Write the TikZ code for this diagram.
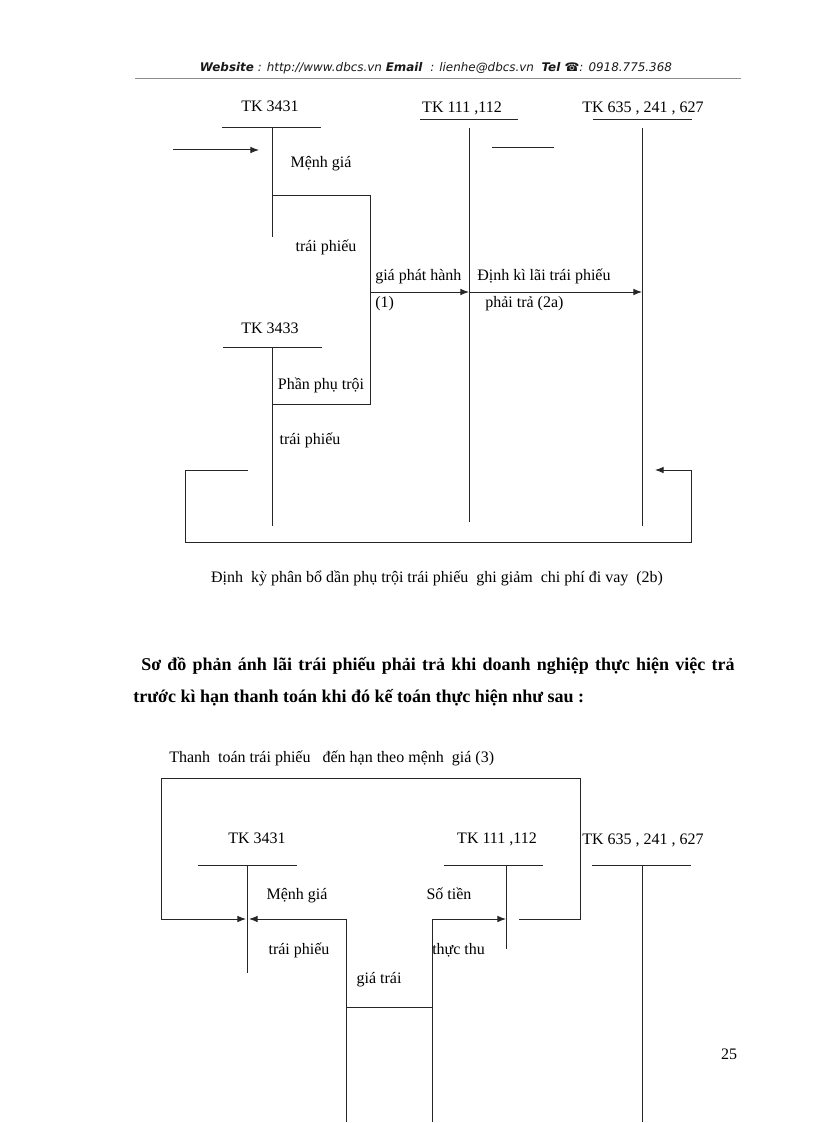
\documentclass[tikz,border=0pt]{standalone}
\usepackage{fontspec}
\setmainfont{Liberation Serif}
\newfontfamily\hdrfont{DejaVu Sans}
\usetikzlibrary{arrows.meta}
\begin{document}
\begin{tikzpicture}[x=0.75pt,y=-0.75pt,
  ln/.style={line width=0.75pt, draw=black!85},
  arr/.style={ln,-{Latex[length=6.5pt,width=5pt]}},
  lbl/.style={font=\fontsize{12}{14}\selectfont, inner sep=0pt, anchor=base},
  lblw/.style={lbl, anchor=base west},
  capt/.style={font=\fontsize{12}{14}\selectfont, inner sep=0pt, anchor=base},
  body/.style={font=\bfseries\fontsize{13.5}{16}\selectfont, inner sep=0pt, anchor=base west}]
\useasboundingbox (0,0) rectangle (816,1123);

% ---------- header ----------
\node[inner sep=0pt, font=\hdrfont\color{black!90}] (hdr) at (436,68)
  {\resizebox{354pt}{!}{\textbf{\textit{Website}}\textit{ : http://www.dbcs.vn }\textbf{\textit{Email}}\textit{ \ : lienhe@dbcs.vn \ }\textbf{\textit{Tel}}\textbf{ ☎}\textit{: 0918.775.368}}};
\coordinate (hrL) at (135,78); \coordinate (hrR) at (741,78);
\draw[line width=0.6pt, black!45] (hrL) -- (hrR);

% ---------- diagram 1 ----------
\node[lbl] (t3431) at (270,112) {TK 3431};
\node[lbl] (t111) at (462,113) {TK 111 ,112};
\node[lbl] (t635) at (643,113) {TK 635 , 241 , 627};
\node[lbl] (t3433) at (270,333) {TK 3433};

\coordinate (u1L) at (222,128); \coordinate (u1R) at (321,128);
\coordinate (v1T) at (272,128); \coordinate (v1B) at (272,237);
\draw[ln] (u1L) -- (u1R);
\draw[ln] (v1T) -- (v1B);
\coordinate (inS) at (173,150); \coordinate (inE) at (259,150);
\draw[arr] (inS) -- (inE);

\coordinate (b1a) at (272,196); \coordinate (b1b) at (370,196);
\coordinate (b1c) at (370,404); \coordinate (b1d) at (272,404);
\draw[ln] (b1a) -- (b1b) -- (b1c) -- (b1d);

\coordinate (u2L) at (420,120); \coordinate (u2R) at (518,120);
\coordinate (v2T) at (469,128); \coordinate (v2B) at (469,522);
\draw[ln] (u2L) -- (u2R);
\draw[ln] (v2T) -- (v2B);
\coordinate (smL) at (492,148); \coordinate (smR) at (554,148);
\draw[ln] (smL) -- (smR);

\coordinate (u3L) at (593,120); \coordinate (u3R) at (692,120);
\coordinate (v3T) at (642,128); \coordinate (v3B) at (642,526);
\draw[ln] (u3L) -- (u3R);
\draw[ln] (v3T) -- (v3B);

\coordinate (u4L) at (223,347); \coordinate (u4R) at (322,347);
\coordinate (v4T) at (272,347); \coordinate (v4B) at (272,526);
\draw[ln] (u4L) -- (u4R);
\draw[ln] (v4T) -- (v4B);

\coordinate (a1S) at (370,292); \coordinate (a1E) at (469,292);
\coordinate (a2E) at (642,292);
\draw[arr] (a1S) -- (a1E);
\draw[arr] (a1E) -- (a2E);

\coordinate (k1) at (248,470); \coordinate (k2) at (185,470);
\coordinate (k3) at (185,542); \coordinate (k4) at (691,542);
\coordinate (k5) at (691,470); \coordinate (k6) at (655,470);
\draw[arr] (k1) -- (k2) -- (k3) -- (k4) -- (k5) -- (k6);

\node[lbl] (m1) at (321,168) {Mệnh giá};
\node[lbl] (m2) at (326,251) {trái phiếu};
\node[lblw] (m3) at (375,280) {giá phát hành};
\node[lblw] (m4) at (375,307) {(1)};
\node[lblw] (m5) at (477,280) {Định kì lãi trái phiếu};
\node[lblw] (m6) at (485,307) {phải trả (2a)};
\node[lbl] (m7) at (321,389) {Phần phụ trội};
\node[lbl] (m8) at (310,444) {trái phiếu};
\node[capt] (cap1) at (437,582) {Định \ kỳ phân bổ dần phụ trội trái phiếu \ ghi giảm \ chi phí đi vay \ (2b)};

% ---------- paragraph ----------
\node[body] (p1) at (141,670) {\makebox[445pt][s]{Sơ đồ phản ánh lãi trái phiếu phải trả khi doanh nghiệp thực hiện việc trả}};
\node[body] (p2) at (133,702) {trước kì hạn thanh toán khi đó kế toán thực hiện như sau :};

% ---------- diagram 2 ----------
\node[capt, anchor=base west] (c2) at (169,762) {Thanh \ toán trái phiếu \ \ đến hạn theo mệnh \ giá (3)};
\node[lbl] (s3431) at (257,843) {TK 3431};
\node[lbl] (s111) at (497,843) {TK 111 ,112};
\node[lblw] (s635) at (582,844) {TK 635 , 241 , 627};

\coordinate (u5L) at (198,865); \coordinate (u5R) at (297,865);
\coordinate (v5T) at (247,865); \coordinate (v5B) at (247,973);
\draw[ln] (u5L) -- (u5R);
\draw[ln] (v5T) -- (v5B);

\coordinate (u6L) at (444,865); \coordinate (u6R) at (543,865);
\coordinate (v6T) at (506,865); \coordinate (v6B) at (506,949);
\draw[ln] (u6L) -- (u6R);
\draw[ln] (v6T) -- (v6B);

\coordinate (u7L) at (592,865); \coordinate (u7R) at (691,865);
\coordinate (v7T) at (642,865); \coordinate (v7B) at (642,1122);
\draw[ln] (u7L) -- (u7R);
\draw[ln] (v7T) -- (v7B);

\coordinate (g1) at (519,919); \coordinate (g2) at (580,919);
\coordinate (g3) at (580,778); \coordinate (g4) at (161,778);
\coordinate (g5) at (161,919); \coordinate (g6) at (246,919);
\draw[arr] (g1) -- (g2) -- (g3) -- (g4) -- (g5) -- (g6);

\coordinate (h1) at (346,1122); \coordinate (h2) at (346,919);
\coordinate (h3) at (249,919);
\draw[arr] (h1) -- (h2) -- (h3);
\coordinate (h4) at (346,1007); \coordinate (h5) at (432,1007);
\draw[ln] (h4) -- (h5);
\coordinate (j1) at (432,1122); \coordinate (j2) at (432,919);
\coordinate (j3) at (506,919);
\draw[arr] (j1) -- (j2) -- (j3);

\node[lbl] (n1) at (297,899) {Mệnh giá};
\node[lbl] (n2) at (449,899) {Số tiền};
\node[lbl] (n3) at (299,954) {trái phiếu};
\node[lblw] (n4) at (432,954) {thực thu};
\node[lbl] (n5) at (379,983) {giá trái};

\node[lbl] (pg) at (729,1059) {25};
\end{tikzpicture}
\end{document}
